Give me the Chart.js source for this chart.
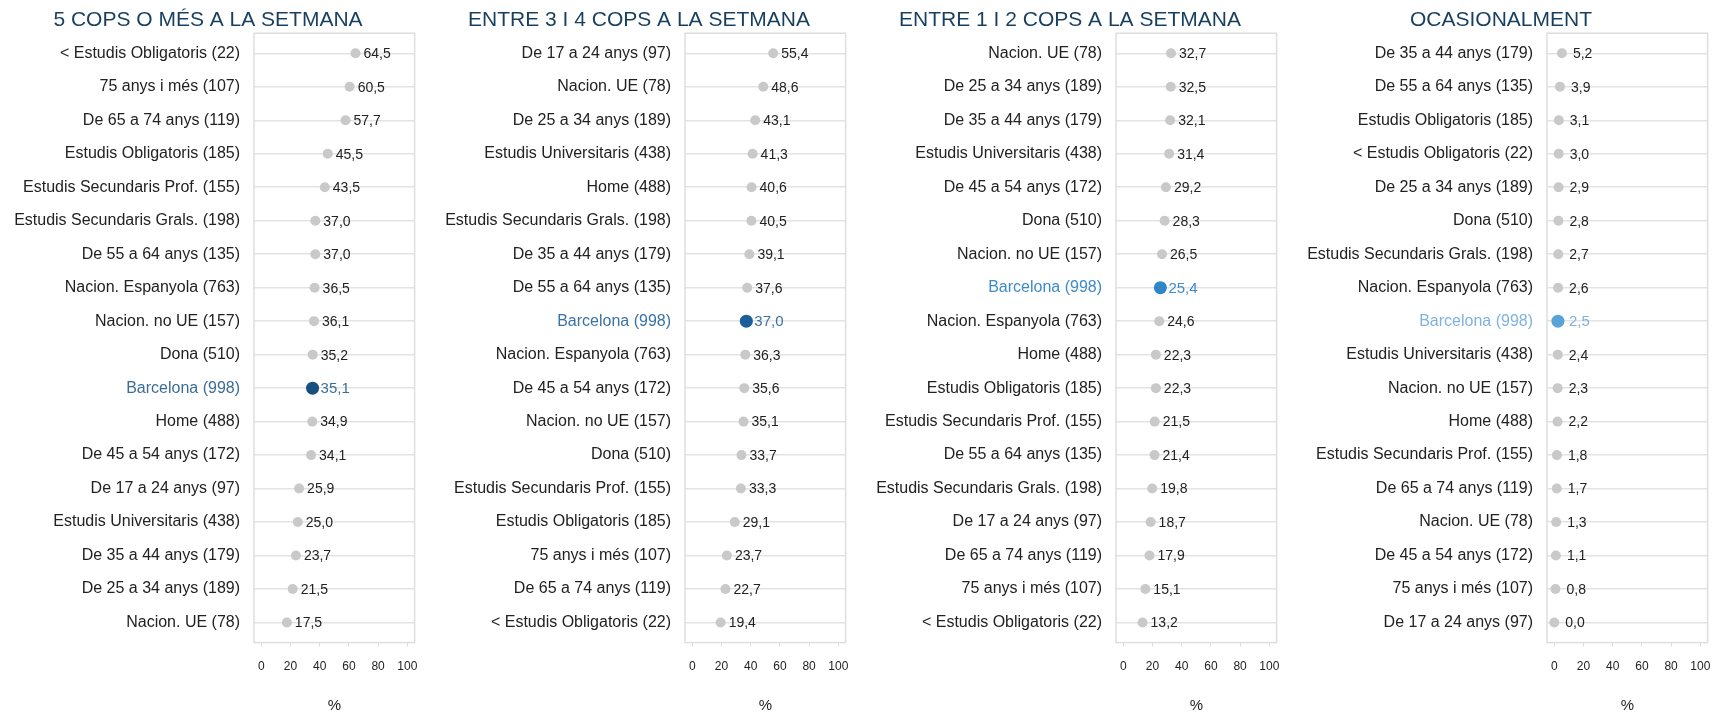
<!DOCTYPE html>
<html>
<head>
<meta charset="utf-8">
<script src="https://cdn.jsdelivr.net/npm/chart.js@4/dist/chart.umd.min.js"></script>
<style>
  html, body { margin: 0; padding: 0; background: #fff; overflow: hidden; }
  .panel { position: absolute; top: 0; width: 431px; height: 713px; }
</style>
</head>
<body>
<div class="panel" style="left:0px"><canvas id="c1" width="431" height="713"></canvas></div>
<div class="panel" style="left:431px"><canvas id="c2" width="431" height="713"></canvas></div>
<div class="panel" style="left:862px"><canvas id="c3" width="431" height="713"></canvas></div>
<div class="panel" style="left:1293px"><canvas id="c4" width="431" height="713"></canvas></div>
<script>
// Data per panel
const titles = [
  "5 COPS O MÉS A LA SETMANA",
  "ENTRE 3 I 4 COPS A LA SETMANA",
  "ENTRE 1 I 2 COPS A LA SETMANA",
  "OCASIONALMENT",
];

const labels1 = ["< Estudis Obligatoris (22)", "75 anys i més (107)", "De 65 a 74 anys (119)", "Estudis Obligatoris (185)",
  "Estudis Secundaris Prof. (155)", "Estudis Secundaris Grals. (198)", "De 55 a 64 anys (135)", "Nacion. Espanyola (763)",
  "Nacion. no UE (157)", "Dona (510)", "Barcelona (998)", "Home (488)", "De 45 a 54 anys (172)", "De 17 a 24 anys (97)",
  "Estudis Universitaris (438)", "De 35 a 44 anys (179)", "De 25 a 34 anys (189)", "Nacion. UE (78)"];
const values1 = [64.5, 60.5, 57.7, 45.5, 43.5, 37.0, 37.0, 36.5, 36.1, 35.2, 35.1, 34.9, 34.1, 25.9, 25.0, 23.7, 21.5, 17.5];

const labels2 = ["De 17 a 24 anys (97)", "Nacion. UE (78)", "De 25 a 34 anys (189)", "Estudis Universitaris (438)",
  "Home (488)", "Estudis Secundaris Grals. (198)", "De 35 a 44 anys (179)", "De 55 a 64 anys (135)", "Barcelona (998)",
  "Nacion. Espanyola (763)", "De 45 a 54 anys (172)", "Nacion. no UE (157)", "Dona (510)", "Estudis Secundaris Prof. (155)",
  "Estudis Obligatoris (185)", "75 anys i més (107)", "De 65 a 74 anys (119)", "< Estudis Obligatoris (22)"];
const values2 = [55.4, 48.6, 43.1, 41.3, 40.6, 40.5, 39.1, 37.6, 37.0, 36.3, 35.6, 35.1, 33.7, 33.3, 29.1, 23.7, 22.7, 19.4];

const labels3 = ["Nacion. UE (78)", "De 25 a 34 anys (189)", "De 35 a 44 anys (179)", "Estudis Universitaris (438)",
  "De 45 a 54 anys (172)", "Dona (510)", "Nacion. no UE (157)", "Barcelona (998)", "Nacion. Espanyola (763)", "Home (488)",
  "Estudis Obligatoris (185)", "Estudis Secundaris Prof. (155)", "De 55 a 64 anys (135)", "Estudis Secundaris Grals. (198)",
  "De 17 a 24 anys (97)", "De 65 a 74 anys (119)", "75 anys i més (107)", "< Estudis Obligatoris (22)"];
const values3 = [32.7, 32.5, 32.1, 31.4, 29.2, 28.3, 26.5, 25.4, 24.6, 22.3, 22.3, 21.5, 21.4, 19.8, 18.7, 17.9, 15.1, 13.2];

const labels4 = ["De 35 a 44 anys (179)", "De 55 a 64 anys (135)", "Estudis Obligatoris (185)", "< Estudis Obligatoris (22)",
  "De 25 a 34 anys (189)", "Dona (510)", "Estudis Secundaris Grals. (198)", "Nacion. Espanyola (763)", "Barcelona (998)",
  "Estudis Universitaris (438)", "Nacion. no UE (157)", "Home (488)", "Estudis Secundaris Prof. (155)", "De 65 a 74 anys (119)",
  "Nacion. UE (78)", "De 45 a 54 anys (172)", "75 anys i més (107)", "De 17 a 24 anys (97)"];
const values4 = [5.2, 3.9, 3.1, 3.0, 2.9, 2.8, 2.7, 2.6, 2.5, 2.4, 2.3, 2.2, 1.8, 1.7, 1.3, 1.1, 0.8, 0.0];

const xTicks = [0, 20, 40, 60, 80, 100];
const highlight = "Barcelona (998)";

Chart.defaults.font.family = "'Liberation Sans', Arial, sans-serif";
Chart.defaults.color = "#222";

const fmt = (v) => v.toFixed(1).replace(".", ",");

// draws the box round the plot and the value next to each dot
const dotLabels = {
  id: "dotLabels",
  beforeDatasetsDraw(chart) {
    const { ctx, chartArea: a } = chart;
    ctx.save();
    ctx.strokeStyle = "#dedede";
    ctx.lineWidth = 1.5;
    ctx.strokeRect(a.left, a.top, a.right - a.left, a.bottom - a.top);
    ctx.restore();
  },
  afterDatasetsDraw(chart, args, opts) {
    const ctx = chart.ctx;
    const ds = chart.data.datasets[0];
    chart.getDatasetMeta(0).data.forEach((pt, i) => {
      const hi = ds.data[i].hi;
      ctx.save();
      ctx.font = (hi ? "15px" : "14px") + " 'Liberation Sans', Arial, sans-serif";
      ctx.fillStyle = hi ? opts.hiText : "#222";
      ctx.textBaseline = "middle";
      ctx.fillText(fmt(ds.data[i].x), pt.x + opts.offset, pt.y + 1);
      ctx.restore();
    });
  },
};

function makeChart(id, title, labels, values, hiDot, hiText, offset) {
  const pts = values.map((v, i) => ({ x: v, y: i, hi: labels[i] === highlight }));
  return new Chart(document.getElementById(id), {
    type: "scatter",
    data: {
      datasets: [{
        data: pts,
        pointRadius: pts.map((p) => (p.hi ? 6.5 : 5)),
        pointBackgroundColor: pts.map((p) => (p.hi ? hiDot : "#c9c9c9")),
        pointBorderWidth: 0,
      }],
    },
    options: {
      responsive: false,
      animation: false,
      layout: { padding: { left: 0, right: 15, top: 0, bottom: 0 } },
      plugins: {
        legend: { display: false },
        tooltip: { enabled: false },
        title: {
          display: true,
          text: title,
          color: "#173f5f",
          font: { size: 21, weight: "normal" },
          padding: { top: 8, bottom: 0 },
        },
        dotLabels: { hiText: hiText, offset: offset },
      },
      scales: {
        x: {
          type: "linear",
          min: -5,
          max: 105,
          afterBuildTicks: (s) => { s.ticks = xTicks.map((v) => ({ value: v })); },
          grid: { drawOnChartArea: false, drawTicks: true, tickLength: 4, color: "#dedede" },
          border: { display: false },
          ticks: { padding: 13, color: "#222", font: { size: 12 } },
          title: { display: true, text: "%", color: "#222", font: { size: 15, lineHeight: 1.0 }, padding: { top: 11, bottom: 0 } },
        },
        y: {
          type: "linear",
          reverse: true,
          min: -0.6,
          max: labels.length - 0.4,
          afterBuildTicks: (s) => { s.ticks = labels.map((_, i) => ({ value: i })); },
          afterFit: (s) => { s.width = 254; },
          grid: { color: "#e3e3e3", lineWidth: 1.5, drawTicks: false },
          border: { display: false },
          ticks: {
            padding: 14,
            font: { size: 16 },
            color: (c) => (labels[c.index] === highlight ? hiText : "#222"),
            callback: (v) => labels[v],
          },
        },
      },
    },
    plugins: [dotLabels],
  });
}

makeChart("c1", titles[0], labels1, values1, "#17507f", "#3b6d98", 8);
makeChart("c2", titles[1], labels2, values2, "#1a5e9c", "#3a72a6", 8);
makeChart("c3", titles[2], labels3, values3, "#2f86c6", "#3d8bcb", 8);
makeChart("c4", titles[3], labels4, values4, "#5aa3d9", "#7fb3de", 11);
</script>
</body>
</html>
